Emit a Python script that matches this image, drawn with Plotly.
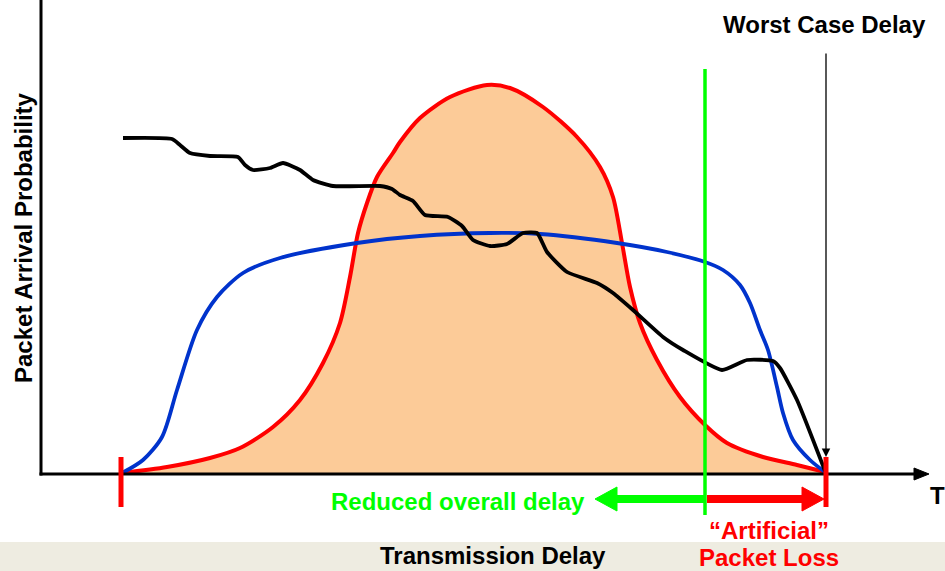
import plotly.graph_objects as go

# ---- data (delay units along x, arrival-probability units along y) ----
red_x = [81, 126, 169, 199, 232, 259, 282, 299, 309, 317, 326, 336, 352, 359, 379, 409, 446, 469, 502, 536, 559, 572, 581, 589, 599, 616, 639, 664, 686, 722, 756, 784]
red_y = [1, 7, 16, 26, 47, 74, 111, 151, 197, 241, 271, 297, 321, 332, 356, 377, 389, 386, 367, 337, 307, 277, 231, 187, 151, 114, 77, 49, 31, 17, 9, 2]

blue_x = [81, 102, 121, 136, 156, 176, 202, 239, 316, 379, 449, 499, 576, 626, 664, 682, 699, 709, 719, 727, 736, 742, 752, 769, 784]
blue_y = [1, 14, 37, 84, 144, 177, 201, 216, 231, 238, 241, 240, 231, 222, 212, 204, 189, 171, 144, 124, 87, 61, 34, 14, 2]

black_x = [82, 131, 139, 149, 169, 197, 204, 212, 229, 242, 259, 272, 292, 339, 351, 359, 372, 384, 407, 421, 432, 449, 466, 482, 496, 506, 526, 556, 572, 592, 622, 642, 681, 706, 732, 739, 756, 784]
black_y = [336, 335, 329, 321, 318, 317, 309, 304, 306, 311, 304, 294, 288, 288, 285, 279, 273, 259, 257, 248, 234, 228, 230, 241, 241, 222, 202, 191, 181, 164, 137, 124, 104, 114, 113, 106, 74, 3]

min_delay = 80
worst_case_delay = 785
playout_cutoff = 664

FONT = "Arial, Liberation Sans, sans-serif"
FS = 24
RED = "#FF0000"
GREEN = "#00FF00"
BLUE = "#0033CC"

fig = go.Figure()
fig.add_trace(go.Scatter(x=red_x, y=red_y, mode="lines", fill="tozeroy",
                         fillcolor="#FCCB98",
                         line=dict(color=RED, width=4, shape="spline", smoothing=0.8),
                         hoverinfo="skip"))
fig.add_trace(go.Scatter(x=blue_x, y=blue_y, mode="lines",
                         line=dict(color=BLUE, width=3.8, shape="spline", smoothing=0.8),
                         hoverinfo="skip"))
fig.add_trace(go.Scatter(x=black_x, y=black_y, mode="lines",
                         line=dict(color="black", width=3.8, shape="spline", smoothing=0.5),
                         hoverinfo="skip"))

shapes = []
# bottom band
shapes.append(dict(type="rect", xref="paper", x0=0, x1=1, yref="y", y0=-68, y1=-110,
                   fillcolor="#EEECE1", line=dict(width=0), layer="below"))
# axes
shapes.append(dict(type="line", x0=0, x1=0, y0=-1.5, y1=500, line=dict(color="black", width=3)))
shapes.append(dict(type="line", x0=-1.5, x1=875, y0=0, y1=0, line=dict(color="black", width=3)))
shapes.append(dict(type="path", path="M 873 6 L 888 0 L 873 -6 Z", fillcolor="black", line=dict(color="black", width=1)))
# red tick marks
for xv in (min_delay, worst_case_delay):
    shapes.append(dict(type="line", x0=xv, x1=xv, y0=-33, y1=17, line=dict(color=RED, width=5)))
# green cutoff line
shapes.append(dict(type="line", x0=playout_cutoff, x1=playout_cutoff, y0=-41, y1=405,
                   line=dict(color=GREEN, width=3.5)))
# green arrow (reduced delay)
shapes.append(dict(type="line", x0=playout_cutoff, x1=574, y0=-25, y1=-25, line=dict(color=GREEN, width=8)))
shapes.append(dict(type="path", path="M 576 -13 L 554 -25 L 576 -37 Z", fillcolor=GREEN, line=dict(color=GREEN, width=1)))
# red arrow (artificial loss)
shapes.append(dict(type="line", x0=playout_cutoff + 2, x1=763, y0=-25, y1=-25, line=dict(color=RED, width=8)))
shapes.append(dict(type="path", path="M 761 -13 L 783 -25 L 761 -37 Z", fillcolor=RED, line=dict(color=RED, width=1)))

annotations = [
    dict(x=worst_case_delay, y=17, ax=worst_case_delay, ay=422, xref="x", yref="y",
         axref="x", ayref="y", showarrow=True, arrowhead=2, arrowsize=1.3, arrowwidth=1.3,
         arrowcolor="black", text="", standoff=0),
    dict(x=546, y=-27, text="<b>Reduced overall delay</b>", xanchor="right", yanchor="middle",
         showarrow=False, font=dict(family=FONT, size=FS, color=GREEN)),
    dict(x=452, y=-81, text="<b>Transmission Delay</b>", xanchor="center", yanchor="middle",
         showarrow=False, font=dict(family=FONT, size=FS, color="black")),
    dict(x=728, y=-56, text="<b>\u201cArtificial\u201d</b>", xanchor="center", yanchor="middle",
         showarrow=False, font=dict(family=FONT, size=FS, color=RED)),
    dict(x=728, y=-83, text="<b>Packet Loss</b>", xanchor="center", yanchor="middle",
         showarrow=False, borderpad=0, font=dict(family=FONT, size=FS, color=RED)),
    dict(x=896, y=-21, text="<b>T</b>", xanchor="center", yanchor="middle",
         showarrow=False, font=dict(family=FONT, size=FS, color="black")),
    dict(x=783, y=450, text="<b>Worst Case Delay</b>", xanchor="center", yanchor="middle",
         showarrow=False, font=dict(family=FONT, size=FS, color="black")),
    dict(x=-18, y=236, text="<b>Packet Arrival Probability</b>", textangle=-90,
         xanchor="center", yanchor="middle", showarrow=False,
         font=dict(family=FONT, size=FS, color="black")),
]

fig.update_layout(
    width=945, height=571,
    margin=dict(l=0, r=0, t=0, b=0),
    paper_bgcolor="white", plot_bgcolor="white",
    showlegend=False,
    xaxis=dict(range=[-41, 904], visible=False, fixedrange=True),
    yaxis=dict(range=[-97, 474], visible=False, fixedrange=True),
    shapes=shapes,
    annotations=annotations,
)

fig.write_html("out.html", config={"displayModeBar": False},
               post_script="document.body.style.margin='0';document.body.style.overflow='hidden';")
